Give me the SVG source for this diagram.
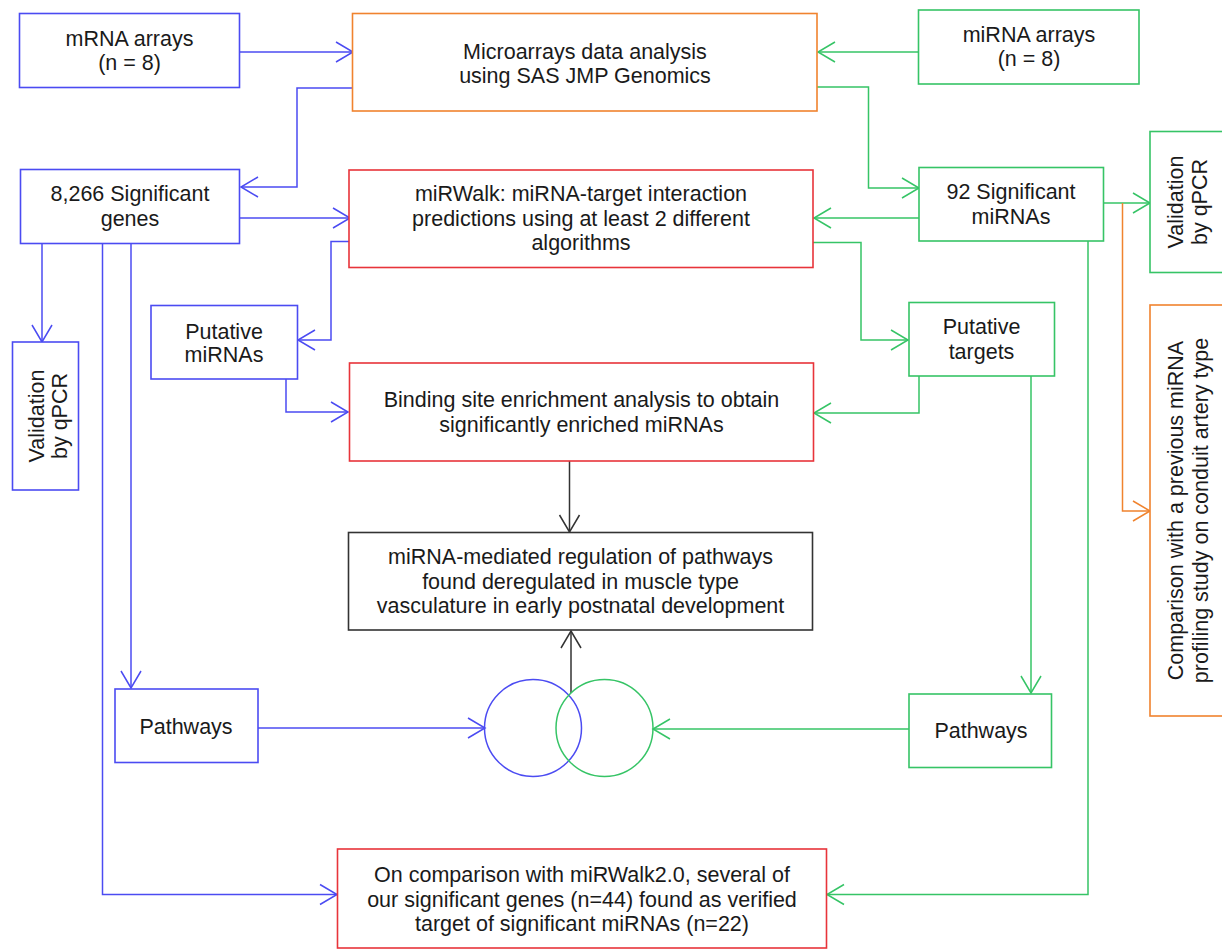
<svg xmlns="http://www.w3.org/2000/svg" width="1222" height="949" viewBox="0 0 1222 949">
<style>
  .box { fill: #ffffff; stroke-width: 1.6; }
  .b { stroke: #4b4bf2; }
  .g { stroke: #36c466; }
  .o { stroke: #f0832e; }
  .r { stroke: #e8343a; }
  .k { stroke: #333333; }
  .t { font-family: "Liberation Sans", Arial, sans-serif; font-size: 21.5px; fill: #1a1a1a; text-anchor: middle; }
  .c { fill: none; stroke-width: 1.5; }
</style>
<defs>
  <marker id="ab" markerUnits="userSpaceOnUse" viewBox="-19 -12 21 24" refX="0" refY="0" markerWidth="21" markerHeight="24" orient="auto">
    <path d="M-17,-10 L0,0 L-17,10" fill="none" stroke="#4b4bf2" stroke-width="1.5"/>
  </marker>
  <marker id="ag" markerUnits="userSpaceOnUse" viewBox="-19 -12 21 24" refX="0" refY="0" markerWidth="21" markerHeight="24" orient="auto">
    <path d="M-17,-10 L0,0 L-17,10" fill="none" stroke="#36c466" stroke-width="1.5"/>
  </marker>
  <marker id="ao" markerUnits="userSpaceOnUse" viewBox="-19 -12 21 24" refX="0" refY="0" markerWidth="21" markerHeight="24" orient="auto">
    <path d="M-17,-10 L0,0 L-17,10" fill="none" stroke="#f0832e" stroke-width="1.5"/>
  </marker>
  <marker id="ak" markerUnits="userSpaceOnUse" viewBox="-19 -12 21 24" refX="0" refY="0" markerWidth="21" markerHeight="24" orient="auto">
    <path d="M-17,-10 L0,0 L-17,10" fill="none" stroke="#333333" stroke-width="1.5"/>
  </marker>
</defs>

<g id="connectors">
  <!-- blue -->
  <path class="c b" d="M240,52 H353" marker-end="url(#ab)"/>
  <path class="c b" d="M353,88 H297 V187 H241" marker-end="url(#ab)"/>
  <path class="c b" d="M240,218 H350" marker-end="url(#ab)"/>
  <path class="c b" d="M349,241.5 H331 V340 H298" marker-end="url(#ab)"/>
  <path class="c b" d="M286,379 V412 H348" marker-end="url(#ab)"/>
  <path class="c b" d="M42,243.5 V342" marker-end="url(#ab)"/>
  <path class="c b" d="M131,243.5 V688" marker-end="url(#ab)"/>
  <path class="c b" d="M102.5,243.5 V894.5 H337" marker-end="url(#ab)"/>
  <path class="c b" d="M258,728 H485" marker-end="url(#ab)"/>
  <!-- green -->
  <path class="c g" d="M919,52 H818" marker-end="url(#ag)"/>
  <path class="c g" d="M817,87 H868.5 V188 H919" marker-end="url(#ag)"/>
  <path class="c g" d="M919,218 H814" marker-end="url(#ag)"/>
  <path class="c g" d="M813,242.5 H861 V340 H908" marker-end="url(#ag)"/>
  <path class="c g" d="M919,376 V413 H814" marker-end="url(#ag)"/>
  <path class="c g" d="M1031,376 V693" marker-end="url(#ag)"/>
  <path class="c g" d="M909,729 H653" marker-end="url(#ag)"/>
  <path class="c g" d="M1088,241 V894.5 H827" marker-end="url(#ag)"/>
  <path class="c g" d="M1104,203 H1150" marker-end="url(#ag)"/>
  <!-- orange -->
  <path class="c o" d="M1122.5,203 V511 H1150" marker-end="url(#ao)"/>
  <!-- black -->
  <path class="c k" d="M569.5,461 V532" marker-end="url(#ak)"/>
  <path class="c k" d="M571,693 V631" marker-end="url(#ak)"/>
</g>

<g id="mrna-arrays">
  <rect class="box b" x="19.5" y="13.5" width="220" height="74"/>
  <text class="t" x="129.5" y="45.5">mRNA arrays</text>
  <text class="t" x="129.5" y="70">(n = 8)</text>
</g>

<g id="microarrays">
  <rect class="box o" x="352.5" y="13.5" width="464.5" height="97.5"/>
  <text class="t" x="585" y="58.5">Microarrays data analysis</text>
  <text class="t" x="585" y="83">using SAS JMP Genomics</text>
</g>

<g id="mirna-arrays">
  <rect class="box g" x="918.5" y="10" width="220.5" height="74"/>
  <text class="t" x="1029" y="41.5">miRNA arrays</text>
  <text class="t" x="1029" y="66">(n = 8)</text>
</g>

<g id="sig-genes">
  <rect class="box b" x="20.5" y="169.5" width="219" height="74"/>
  <text class="t" x="130" y="201">8,266 Significant</text>
  <text class="t" x="130" y="226">genes</text>
</g>

<g id="mirwalk">
  <rect class="box r" x="349" y="170" width="464" height="97.5"/>
  <text class="t" x="581" y="201">miRWalk: miRNA-target interaction</text>
  <text class="t" x="581" y="225.5">predictions using at least 2 different</text>
  <text class="t" x="581" y="250">algorithms</text>
</g>

<g id="sig-mirnas">
  <rect class="box g" x="919" y="167.5" width="184.5" height="73.5"/>
  <text class="t" x="1011" y="199">92 Significant</text>
  <text class="t" x="1011" y="223.5">miRNAs</text>
</g>

<g id="validation-left">
  <rect class="box b" x="12.5" y="342" width="66" height="148"/>
  <text class="t" transform="translate(43.5,416) rotate(-90)">Validation</text>
  <text class="t" transform="translate(67,416) rotate(-90)">by qPCR</text>
</g>

<g id="validation-right">
  <rect class="box g" x="1150" y="131.5" width="90" height="141"/>
  <text class="t" transform="translate(1182.5,202) rotate(-90)">Validation</text>
  <text class="t" transform="translate(1207,202) rotate(-90)">by qPCR</text>
</g>

<g id="comparison">
  <rect class="box o" x="1150" y="305" width="90" height="411"/>
  <text class="t" transform="translate(1183,510.5) rotate(-90)">Comparison with a previous miRNA</text>
  <text class="t" transform="translate(1207.5,510.5) rotate(-90)">profiling study on conduit artery type</text>
</g>

<g id="putative-mirnas">
  <rect class="box b" x="151" y="305.5" width="146.5" height="73.5"/>
  <text class="t" x="224" y="338.5">Putative</text>
  <text class="t" x="224" y="362">miRNAs</text>
</g>

<g id="putative-targets">
  <rect class="box g" x="909" y="302.5" width="145.5" height="73.5"/>
  <text class="t" x="981.5" y="334">Putative</text>
  <text class="t" x="981.5" y="358.5">targets</text>
</g>

<g id="binding">
  <rect class="box r" x="349.5" y="363" width="464" height="98"/>
  <text class="t" x="581.5" y="407">Binding site enrichment analysis to obtain</text>
  <text class="t" x="581.5" y="431.5">significantly enriched miRNAs</text>
</g>

<g id="regulation">
  <rect class="box k" x="348.5" y="532.5" width="464" height="97.5"/>
  <text class="t" x="580.5" y="563.5">miRNA-mediated regulation of pathways</text>
  <text class="t" x="580.5" y="588.5">found deregulated in muscle type</text>
  <text class="t" x="580.5" y="613">vasculature in early postnatal development</text>
</g>

<g id="pathways-left">
  <rect class="box b" x="115" y="689" width="143" height="73.5"/>
  <text class="t" x="186" y="733.5">Pathways</text>
</g>

<g id="pathways-right">
  <rect class="box g" x="909" y="694" width="142.5" height="73.5"/>
  <text class="t" x="981" y="738">Pathways</text>
</g>

<g id="venn">
  <circle cx="533" cy="728" r="48.5" fill="none" stroke="#4b4bf2" stroke-width="1.5"/>
  <circle cx="604.5" cy="728" r="48.5" fill="none" stroke="#36c466" stroke-width="1.5"/>
</g>

<g id="verified">
  <rect class="box r" x="337.5" y="849" width="489" height="99"/>
  <text class="t" x="582" y="882">On comparison with miRWalk2.0, several of</text>
  <text class="t" x="582" y="906.5">our significant genes (n=44) found as verified</text>
  <text class="t" x="582" y="931">target of significant miRNAs (n=22)</text>
</g>
</svg>
